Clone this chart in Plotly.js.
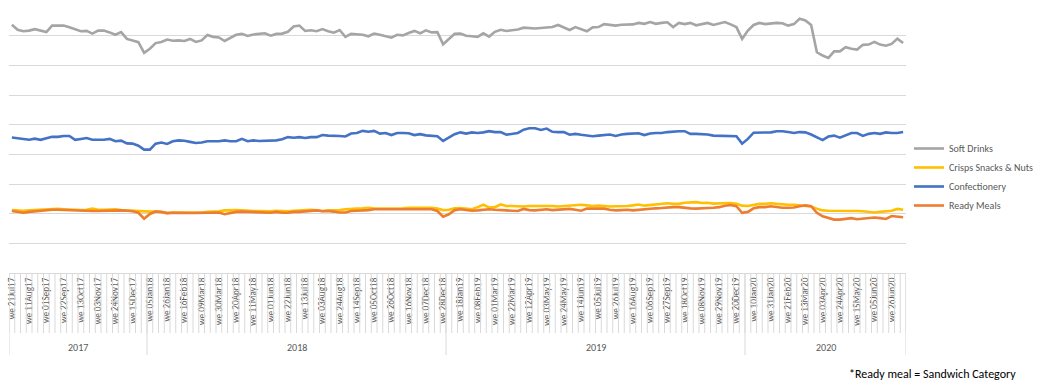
<!DOCTYPE html>
<html>
<head>
<meta charset="utf-8">
<script src="https://cdn.plot.ly/plotly-3.0.1.min.js"></script>
<style>
  html, body { margin: 0; padding: 0; background: #ffffff; }
  #chart { width: 1049px; height: 389px; }
</style>
</head>
<body>
<div id="chart"></div>
<script>
// ---- Categories (week ending dates), grouped by year ----
const years = ['2017', '2018', '2019', '2020'];
const weeks2017 = ['21Jul17','28Jul17','04Aug17','11Aug17','18Aug17','25Aug17','01Sep17','08Sep17','15Sep17','22Sep17','29Sep17','06Oct17','13Oct17','20Oct17','27Oct17','03Nov17','10Nov17','17Nov17','24Nov17','01Dec17','08Dec17','15Dec17','22Dec17','29Dec17'];
const weeks2018 = ['05Jan18','12Jan18','19Jan18','26Jan18','02Feb18','09Feb18','16Feb18','23Feb18','02Mar18','09Mar18','16Mar18','23Mar18','30Mar18','06Apr18','13Apr18','20Apr18','27Apr18','04May18','11May18','18May18','25May18','01Jun18','08Jun18','15Jun18','22Jun18','29Jun18','06Jul18','13Jul18','20Jul18','27Jul18','03Aug18','10Aug18','17Aug18','24Aug18','31Aug18','07Sep18','14Sep18','21Sep18','28Sep18','05Oct18','12Oct18','19Oct18','26Oct18','02Nov18','09Nov18','16Nov18','23Nov18','30Nov18','07Dec18','14Dec18','21Dec18','28Dec18'];
const weeks2019 = ['04Jan19','11Jan19','18Jan19','25Jan19','01Feb19','08Feb19','15Feb19','22Feb19','01Mar19','08Mar19','15Mar19','22Mar19','29Mar19','05Apr19','12Apr19','19Apr19','26Apr19','03May19','10May19','17May19','24May19','31May19','07Jun19','14Jun19','21Jun19','28Jun19','05Jul19','12Jul19','19Jul19','26Jul19','02Aug19','09Aug19','16Aug19','23Aug19','30Aug19','06Sep19','13Sep19','20Sep19','27Sep19','04Oct19','11Oct19','18Oct19','25Oct19','01Nov19','08Nov19','15Nov19','22Nov19','29Nov19','06Dec19','13Dec19','20Dec19','27Dec19'];
const weeks2020 = ['03Jan20','10Jan20','17Jan20','24Jan20','31Jan20','07Feb20','14Feb20','21Feb20','28Feb20','06Mar20','13Mar20','20Mar20','27Mar20','03Apr20','10Apr20','17Apr20','24Apr20','01May20','08May20','15May20','22May20','29May20','05Jun20','12Jun20','19Jun20','26Jun20','03Jul20','10Jul20'];
const weeksByYear = [weeks2017, weeks2018, weeks2019, weeks2020];

// ---- Series values ----
const softDrinks = [
  83.7, 82.0, 81.5, 81.7, 82.2, 81.7, 81.2, 83.4, 83.4, 83.4,
  82.8, 82.2, 81.5, 81.6, 80.7, 81.7, 81.7, 81.1, 80.3, 81.2,
  78.9, 78.4, 77.8, 74.2, 75.6, 77.5, 77.9, 78.7, 78.3, 78.4,
  78.2, 78.9, 77.9, 78.4, 80.2, 79.6, 79.4, 78.2, 79.2, 80.3,
  80.6, 79.9, 80.4, 80.6, 80.8, 80.0, 80.6, 80.7, 81.3, 83.1,
  83.4, 81.6, 81.8, 81.5, 82.2, 81.5, 81.0, 81.9, 79.6, 80.6,
  80.4, 80.3, 79.8, 80.7, 80.3, 79.9, 79.3, 80.3, 80.1, 80.9,
  81.6, 80.8, 81.8, 81.1, 81.2, 77.1, 78.9, 80.6, 80.7, 80.0,
  79.8, 79.6, 80.8, 79.7, 81.3, 82.0, 81.6, 81.8, 82.1, 82.7,
  82.6, 82.4, 82.6, 82.8, 82.9, 83.6, 82.7, 81.9, 82.9, 82.2,
  81.5, 82.8, 82.9, 83.9, 83.6, 83.4, 83.7, 83.7, 83.8, 84.3,
  84.0, 84.6, 84.0, 84.3, 84.5, 82.9, 84.3, 83.9, 84.3, 83.5,
  84.0, 84.3, 83.6, 84.0, 84.6, 83.8, 82.9, 78.9, 81.7, 83.6,
  84.3, 83.9, 84.2, 84.3, 84.2, 83.4, 83.9, 85.7, 85.1, 83.6,
  74.4, 73.3, 72.5, 74.7, 74.7, 76.1, 75.6, 75.3, 76.9, 77.0,
  77.9, 77.0, 76.6, 77.2, 79.0, 77.5
];
const crispsSnacksNuts = [
  21.2, 21.0, 21.0, 21.1, 21.2, 21.3, 21.5, 21.6, 21.6, 21.5,
  21.5, 21.3, 21.2, 21.3, 21.7, 21.3, 21.3, 21.3, 21.5, 21.2,
  21.1, 20.9, 20.8, 20.6, 20.7, 20.8, 20.6, 20.2, 20.4, 20.4,
  20.2, 20.2, 20.3, 20.4, 20.6, 20.6, 20.8, 21.1, 21.2, 21.2,
  21.1, 20.9, 20.9, 20.9, 20.8, 20.8, 21.0, 20.8, 20.8, 21.0,
  21.1, 21.2, 21.3, 21.1, 20.9, 21.1, 21.1, 21.2, 21.5, 21.7,
  21.7, 21.8, 22.0, 21.7, 21.7, 21.7, 21.7, 21.7, 21.8, 22.0,
  22.1, 22.0, 22.0, 22.0, 21.7, 21.2, 21.3, 21.8, 21.9, 21.7,
  21.5, 22.2, 23.0, 22.1, 22.2, 23.1, 22.6, 22.6, 22.5, 22.4,
  22.6, 22.6, 22.7, 22.8, 22.6, 22.4, 22.6, 22.8, 22.9, 23.0,
  22.8, 22.6, 22.7, 22.5, 22.4, 22.5, 22.5, 22.6, 22.8, 23.1,
  22.7, 22.9, 23.0, 23.3, 23.5, 23.3, 23.3, 23.7, 23.8, 23.9,
  23.6, 23.7, 23.4, 23.4, 23.5, 23.6, 23.3, 22.7, 22.6, 23.0,
  23.3, 23.3, 23.5, 23.3, 23.1, 23.0, 23.0, 22.8, 22.6, 22.4,
  21.7, 21.1, 21.0, 21.0, 20.9, 21.1, 21.0, 20.9, 20.8, 20.6,
  20.4, 20.6, 20.8, 21.0, 21.6, 21.3
];
const confectionery = [
  45.7, 45.4, 45.1, 44.9, 45.3, 44.9, 45.4, 45.9, 45.9, 46.2,
  46.2, 44.9, 45.2, 45.5, 44.9, 44.9, 44.9, 45.2, 44.4, 44.6,
  43.7, 43.6, 42.9, 41.6, 41.6, 43.6, 44.0, 43.5, 44.4, 44.7,
  44.6, 44.2, 43.8, 44.0, 44.4, 44.4, 44.4, 44.7, 44.4, 44.4,
  45.2, 44.4, 44.7, 44.5, 44.5, 44.5, 44.7, 45.1, 45.8, 45.6,
  45.8, 45.5, 45.8, 45.8, 46.5, 46.3, 46.3, 46.2, 46.0, 47.0,
  47.2, 47.9, 47.6, 47.9, 47.0, 47.2, 46.5, 47.2, 47.2, 47.1,
  46.5, 46.8, 46.4, 46.3, 46.1, 44.5, 45.8, 46.8, 47.4, 47.0,
  47.4, 47.2, 47.4, 47.8, 47.5, 47.5, 46.6, 47.0, 47.2, 48.3,
  48.8, 48.8, 48.2, 48.7, 47.6, 47.5, 47.5, 46.6, 46.9, 46.6,
  46.3, 46.1, 46.3, 46.6, 46.7, 46.2, 46.7, 46.9, 47.0, 47.1,
  46.5, 47.0, 47.2, 47.2, 47.5, 47.7, 47.8, 47.8, 46.9, 46.9,
  46.9, 46.7, 46.3, 46.3, 46.3, 46.1, 46.1, 43.6, 45.2, 47.3,
  47.4, 47.4, 47.4, 47.8, 47.8, 47.5, 47.2, 47.5, 47.4, 46.7,
  45.7, 44.8, 46.0, 46.3, 45.6, 46.4, 47.2, 47.2, 46.2, 46.9,
  47.2, 46.9, 47.4, 47.2, 47.2, 47.5
];
const readyMeals = [
  20.9, 20.6, 20.3, 20.6, 20.8, 21.0, 21.2, 21.3, 21.3, 21.2,
  21.2, 21.2, 21.0, 20.8, 20.9, 20.9, 21.0, 21.1, 21.1, 21.1,
  21.0, 20.8, 20.3, 18.3, 19.9, 20.7, 20.6, 20.2, 20.3, 20.2,
  20.1, 20.2, 20.2, 20.2, 20.3, 20.4, 20.4, 19.8, 20.3, 20.6,
  20.7, 20.6, 20.6, 20.4, 20.3, 20.3, 20.6, 20.3, 20.3, 20.6,
  20.6, 20.8, 21.1, 21.1, 20.8, 20.9, 20.7, 20.4, 20.4, 20.9,
  21.0, 21.0, 21.2, 21.5, 21.5, 21.5, 21.5, 21.5, 21.5, 21.7,
  21.7, 21.7, 21.6, 21.5, 20.9, 19.0, 19.8, 21.2, 21.5, 21.2,
  21.0, 21.1, 21.3, 21.5, 21.3, 21.1, 21.1, 21.0, 20.9, 21.6,
  21.2, 21.1, 21.2, 21.5, 21.2, 21.3, 21.5, 21.6, 21.3, 21.0,
  21.7, 21.7, 21.7, 21.7, 21.3, 21.1, 21.2, 21.3, 21.1, 21.3,
  21.6, 21.7, 21.8, 21.9, 22.1, 22.2, 22.2, 21.9, 21.8, 21.7,
  21.7, 21.9, 22.0, 22.2, 22.7, 22.9, 22.5, 20.3, 20.6, 21.8,
  22.2, 22.2, 22.5, 22.2, 22.0, 22.0, 22.1, 22.5, 22.8, 22.5,
  20.3, 19.1, 18.5, 18.0, 18.0, 18.3, 18.5, 18.1, 18.3, 18.5,
  18.7, 18.5, 18.2, 19.2, 19.1, 18.8
];

const seriesNames = ['Soft Drinks', 'Crisps Snacks & Nuts', 'Confectionery', 'Ready Meals'];
const seriesColors = ['#a5a5a5', '#ffc000', '#4472c4', '#ed7d31'];
const seriesValues = [softDrinks, crispsSnacksNuts, confectionery, readyMeals];
const footnote = '*Ready meal = Sandwich Category';

// ---- Build categories ----
const categories = [];
weeksByYear.forEach(ws => ws.forEach(w => categories.push('we ' + w)));
const n = categories.length;

const tickLabelIdx = [];
for (let i = 0; i < n; i += 3) tickLabelIdx.push(i);

const traces = seriesNames.map((name, k) => ({
  type: 'scatter',
  mode: 'lines',
  name: name,
  x: categories,
  y: seriesValues[k],
  line: { color: seriesColors[k], width: 2.6 },
  hoverinfo: 'skip'
}));

// Plot geometry (px)
const W = 1049, H = 389;
const mL = 9, mR = 143, mT = 6, mB = 116;
const plotH = H - mT - mB;
const plotW = W - mL - mR;
const px2paperY = (py) => ( (H - mB) - py ) / plotH;
const px2paperX = (px) => (px - mL) / plotW;

const FONT = 'Carlito, "Liberation Sans", Arial, sans-serif';
const shapes = [];
const gridC = '#d9d9d9';
// weekly tick separators
for (let k = 0; k <= n; k++) {
  shapes.push({
    type: 'line', xref: 'x', yref: 'paper',
    x0: k - 0.5, x1: k - 0.5, y0: 0, y1: px2paperY(333),
    line: { color: gridC, width: 1 }
  });
}
// year separators and labels
const annotations = [];
let start = 0;
weeksByYear.forEach((ws, yi) => {
  const end = start + ws.length;
  shapes.push({
    type: 'line', xref: 'x', yref: 'paper',
    x0: start - 0.5, x1: start - 0.5, y0: 0, y1: px2paperY(355),
    line: { color: gridC, width: 1 }
  });
  if (yi === weeksByYear.length - 1) {
    shapes.push({
      type: 'line', xref: 'x', yref: 'paper',
      x0: end - 0.5, x1: end - 0.5, y0: 0, y1: px2paperY(355),
      line: { color: gridC, width: 1 }
    });
  }
  annotations.push({
    xref: 'x', yref: 'paper',
    x: (start + end - 1) / 2, y: px2paperY(347),
    text: years[yi], showarrow: false,
    xanchor: 'center', yanchor: 'middle',
    font: { family: FONT, size: 10, color: '#595959' }
  });
  start = end;
});
annotations.push({
  xref: 'paper', yref: 'paper',
  x: px2paperX(1018), y: px2paperY(374),
  text: footnote, showarrow: false,
  xanchor: 'right', yanchor: 'middle',
  font: { family: FONT, size: 12, color: '#000000' }
});

const layout = {
  width: W, height: H, autosize: false,
  margin: { l: mL, r: mR, t: mT, b: mB, pad: 0 },
  paper_bgcolor: '#ffffff', plot_bgcolor: '#ffffff',
  showlegend: true,
  legend: {
    x: px2paperX(909), xanchor: 'left',
    y: px2paperY(134), yanchor: 'top',
    font: { family: FONT, size: 10, color: '#595959' },
    bgcolor: 'rgba(0,0,0,0)', borderwidth: 0,
    tracegroupgap: 0, itemwidth: 30
  },
  xaxis: {
    type: 'category',
    range: [-0.5, n - 0.5],
    tickmode: 'array',
    tickvals: tickLabelIdx.map(i => categories[i]),
    ticktext: tickLabelIdx.map(i => categories[i]),
    tickangle: -90,
    ticks: '', showgrid: false, zeroline: false,
    showline: true, linecolor: gridC, linewidth: 1,
    tickfont: { family: FONT, size: 9.2, color: '#595959' },
    fixedrange: true
  },
  yaxis: {
    range: [0, 90],
    dtick: 10, tick0: 0,
    showticklabels: false, ticks: '',
    showgrid: true, gridcolor: gridC, gridwidth: 1,
    zeroline: false, showline: false,
    fixedrange: true
  },
  shapes: shapes,
  annotations: annotations
};

Plotly.newPlot('chart', traces, layout, { displayModeBar: false, staticPlot: true });
</script>
</body>
</html>
